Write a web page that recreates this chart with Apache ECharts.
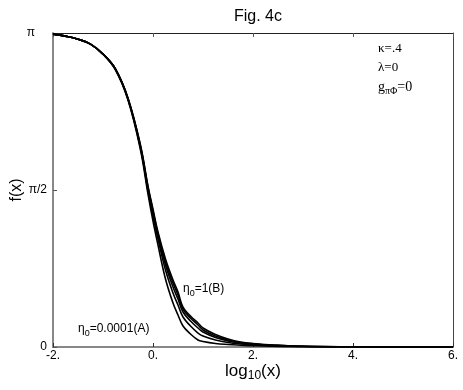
<!DOCTYPE html>
<html>
<head>
<meta charset="utf-8">
<script src="https://cdn.jsdelivr.net/npm/echarts@6/dist/echarts.min.js"></script>
<style>
  html, body { margin: 0; padding: 0; background: #fff; }
  #chart { width: 463px; height: 390px; }
</style>
</head>
<body>
<div id="chart"></div>
<script>
// log10(x) sample points
const logX = [-2, -1.75, -1.5, -1.25, -1, -0.75, -0.5, -0.25, -0.1, 0, 0.1, 0.25, 0.4, 0.5, 0.6, 0.75, 0.9, 1, 1.25, 1.5, 1.75, 2, 2.5, 3, 4, 5, 6];

// f(x) for the five curves (A lowest ... B highest tail)
const curveA = [3.13, 3.11, 3.08, 3.03, 2.93, 2.77, 2.47, 1.97, 1.53, 1.26, 1.02, 0.68, 0.44, 0.32, 0.21, 0.13, 0.07, 0.055, 0.035, 0.025, 0.018, 0.012, 0.006, 0.003, 0.001, 0, 0];
const curve2 = [3.13, 3.11, 3.08, 3.03, 2.93, 2.78, 2.48, 1.99, 1.56, 1.31, 1.08, 0.77, 0.54, 0.42, 0.30, 0.21, 0.14, 0.11, 0.07, 0.045, 0.03, 0.02, 0.01, 0.005, 0.0015, 0, 0];
const curve3 = [3.13, 3.11, 3.08, 3.03, 2.93, 2.78, 2.48, 2.00, 1.58, 1.34, 1.11, 0.82, 0.60, 0.48, 0.35, 0.26, 0.19, 0.15, 0.095, 0.06, 0.04, 0.027, 0.014, 0.006, 0.002, 0.0003, 0];
const curve4 = [3.13, 3.11, 3.08, 3.03, 2.93, 2.78, 2.49, 2.01, 1.60, 1.36, 1.13, 0.85, 0.64, 0.52, 0.38, 0.29, 0.22, 0.17, 0.11, 0.07, 0.045, 0.03, 0.016, 0.007, 0.002, 0.0004, 0];
const curveB = [3.13, 3.11, 3.08, 3.03, 2.93, 2.78, 2.49, 2.02, 1.61, 1.38, 1.15, 0.88, 0.67, 0.55, 0.40, 0.31, 0.24, 0.19, 0.125, 0.08, 0.05, 0.035, 0.018, 0.008, 0.002, 0.0005, 0];

const curves = [curveA, curve2, curve3, curve4, curveB];
const xTicks = [-2, 0, 2, 4, 6];
const yTickLabels = ['0', 'π/2', 'π'];

const font = 'Liberation Sans, Arial, sans-serif';
const serif = 'Liberation Serif, Times New Roman, serif';

const chart = echarts.init(document.getElementById('chart'));

const series = curves.map((c, i) => ({
    type: 'line',
    name: 'c' + i,
    data: logX.map((x, j) => [x, c[j]]),
    smooth: 0.4,
    symbol: 'none',
    lineStyle: { color: '#000', width: 1.6 },
    z: 3
}));

const option = {
    backgroundColor: '#fff',
    animation: false,
    title: {
        text: 'Fig. 4c',
        left: 253,
        textAlign: 'center',
        top: 4,
        textStyle: { fontFamily: font, fontWeight: 'normal', fontSize: 16, color: '#000' }
    },
    grid: { left: 53, right: 10, top: 33, bottom: 43, containLabel: false, outerBoundsMode: 'none' },
    xAxis: [{
        type: 'value',
        min: -2,
        max: 6,
        interval: 2,
        name: '{a|log}{s|10}{a|(x)}',
        nameLocation: 'middle',
        nameMoveOverlap: false,
        nameGap: 13,
        nameTextStyle: {
            verticalAlign: 'top',
            rich: {
                a: { fontFamily: font, fontSize: 17, color: '#000' },
                s: { fontFamily: font, fontSize: 12, color: '#000', padding: [10, 0, 0, 0] }
            }
        },
        axisLine: { onZero: false, lineStyle: { color: '#888', width: 2 } },
        axisTick: { inside: true, length: 4, lineStyle: { color: '#333' } },
        axisLabel: {
            margin: 3,
            fontFamily: font,
            fontSize: 12,
            color: '#000',
            formatter: v => xTicks.indexOf(v) >= 0 ? v + '.' : ''
        },
        splitLine: { show: false }
    }, {
        type: 'value',
        position: 'top',
        min: -2,
        max: 6,
        interval: 2,
        axisLine: { onZero: false, lineStyle: { color: '#222', width: 1 } },
        axisTick: { inside: true, length: 4, lineStyle: { color: '#555' } },
        axisLabel: { show: false },
        splitLine: { show: false }
    }],
    yAxis: [{
        type: 'value',
        min: 0,
        max: Math.PI,
        interval: Math.PI / 2,
        name: 'f(x)',
        nameLocation: 'middle',
        nameMoveOverlap: false,
        nameGap: 28,
        nameTextStyle: { fontFamily: font, fontSize: 16, color: '#000' },
        axisLine: { show: true, onZero: false, lineStyle: { color: '#888', width: 2 } },
        axisTick: { show: true, inside: true, length: 4, lineStyle: { color: '#555' } },
        axisLabel: {
            margin: 6,
            formatter: v => {
                const k = Math.round(v / (Math.PI / 2));
                if (k === 2) return '{p|' + yTickLabels[k] + '}';
                return '{n|' + yTickLabels[k] + '}';
            },
            rich: {
                n: { fontFamily: font, fontSize: 12, color: '#000' },
                p: { fontFamily: font, fontSize: 12, color: '#000', padding: [0, 12, 0, 0] }
            }
        },
        splitLine: { show: false }
    }, {
        type: 'value',
        position: 'right',
        min: 0,
        max: Math.PI,
        interval: Math.PI / 2,
        axisLine: { show: true, onZero: false, lineStyle: { color: '#444', width: 1 } },
        axisTick: { show: false },
        axisLabel: { show: false },
        splitLine: { show: false }
    }],
    graphic: [
        { type: 'text', left: 378, top: 42, style: { text: 'κ=.4', font: '13px ' + serif, fill: '#000' } },
        { type: 'text', left: 378, top: 61, style: { text: 'λ=0', font: '13px ' + serif, fill: '#000' } },
        {
            type: 'text', left: 378, top: 80,
            style: {
                text: '{a|g}{s|πΦ}{a|=0}',
                rich: {
                    a: { fontFamily: serif, fontSize: 14, fill: '#000' },
                    s: { fontFamily: serif, fontSize: 10, fill: '#000', padding: [9, 0, 0, 0] }
                }
            }
        },
        {
            type: 'text', left: 183, top: 283,
            style: {
                text: '{a|η}{s|0}{a|=1(B)}',
                rich: {
                    a: { fontFamily: font, fontSize: 12, fill: '#000' },
                    s: { fontFamily: font, fontSize: 9, fill: '#000', padding: [9, 0, 0, 0] }
                }
            }
        },
        {
            type: 'text', left: 78, top: 323,
            style: {
                text: '{a|η}{s|0}{a|=0.0001(A)}',
                rich: {
                    a: { fontFamily: font, fontSize: 12, fill: '#000' },
                    s: { fontFamily: font, fontSize: 9, fill: '#000', padding: [9, 0, 0, 0] }
                }
            }
        }
    ],
    series: series
};

chart.setOption(option);
</script>
</body>
</html>
